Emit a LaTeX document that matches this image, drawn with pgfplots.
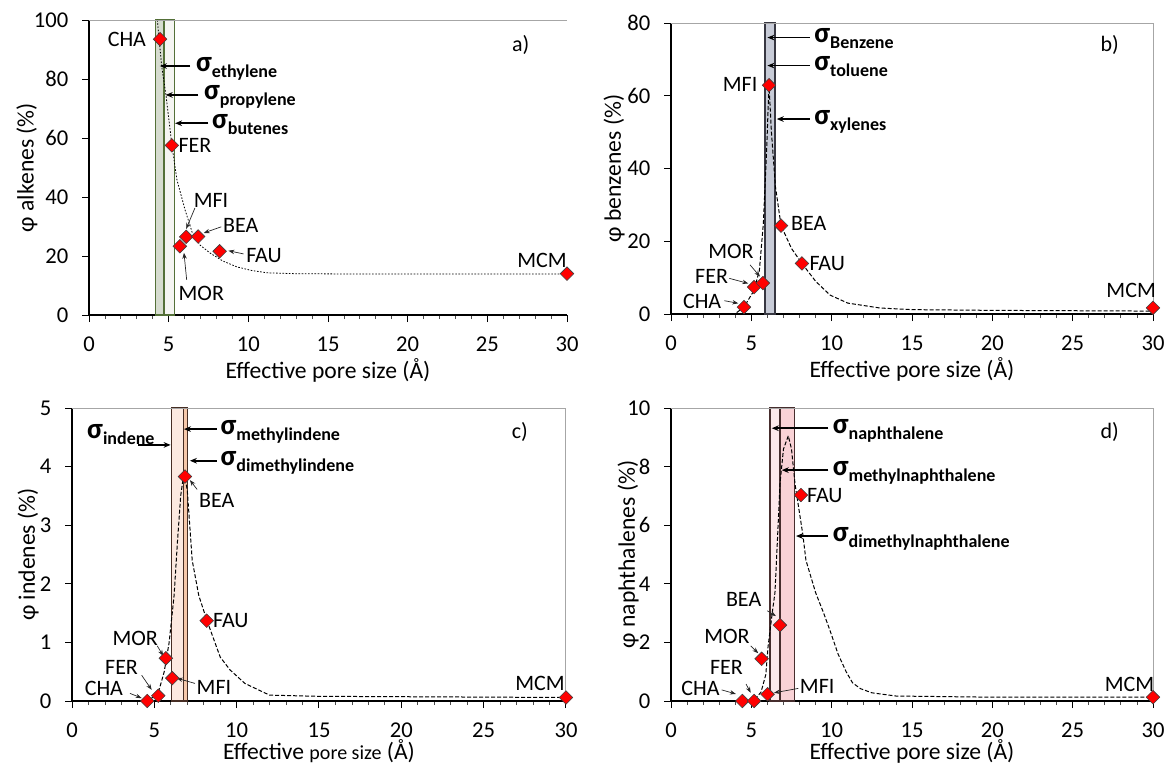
\documentclass[border=0pt]{standalone}
\usepackage{fontspec}
\setmainfont{Carlito}
\usepackage{pgfplots}
\pgfplotsset{compat=1.18}
\usetikzlibrary{arrows.meta}

\definecolor{aband}{RGB}{214,220,207}
\definecolor{abandb}{RGB}{245,245,242}
\definecolor{aline}{RGB}{84,112,56}
\definecolor{bband}{RGB}{199,203,215}
\definecolor{bline}{RGB}{55,55,65}
\definecolor{cband}{RGB}{252,233,224}
\definecolor{cbandb}{RGB}{246,200,170}
\definecolor{cline}{RGB}{70,45,35}
\definecolor{dband}{RGB}{253,233,235}
\definecolor{dbandb}{RGB}{249,210,214}
\definecolor{dline}{RGB}{70,45,45}
\definecolor{mred}{RGB}{255,0,0}

\newcommand{\sig}[1]{{\bfseries\fontsize{14.5}{16}\selectfont σ\raisebox{-3pt}{\fontsize{9}{10}\selectfont #1}}}

\tikzset{
lbl/.style={font=\fontsize{11}{13}\selectfont, inner sep=0pt},
sg/.style={anchor=base west, yshift=-2.5pt, inner sep=0pt},
parr/.style={-{Stealth[length=3pt,width=2.2pt]}, line width=0.35pt, black!85},
sarr/.style={-{Stealth[length=3.5pt,width=2.8pt]}, line width=0.9pt, black},
}
\pgfplotsset{panel/.style={
  scale only axis, anchor=south west, clip=false,
  xmin=0, xmax=30, xtick={0,5,...,30}, minor x tick num=4,
  axis x line*=bottom, axis y line*=left,
  axis line style={-, line width=0.6pt, black},
  tick align=outside, major tick length=3.5pt, minor tick length=2pt,
  major tick style={black, line width=0.5pt},
  minor tick style={black!70, line width=0.4pt},
  tick label style={font=\fontsize{11.3}{13}\selectfont},
  xticklabel style={yshift=-3.8pt},
  yticklabel style={xshift=-3.3pt},
  /pgf/number format/assume math mode=true,
  label style={font=\fontsize{11.8}{14}\selectfont},
  xlabel={Effective pore size (Å)},
  xlabel style={at={(axis description cs:0.5,0)}, anchor=center, yshift=-27.5pt},
  ylabel style={anchor=center, rotate=0},
},
pts/.style={only marks, mark=square*, mark size=2.4pt, mark options={rotate=45, fill=mred, draw=black!75, line width=0.3pt}},
fit/.style={black, line width=0.5pt, dash pattern=on 2pt off 1pt},
}

\begin{document}
\begin{tikzpicture}
\useasboundingbox (0,0) rectangle (583.5pt,-382.5pt);

% ---------------- panel a ----------------
\begin{axis}[panel, at={(44.5pt,-157.5pt)}, width=239pt, height=147.5pt,
  ymin=0, ymax=100, ytick={0,20,...,100},
  ylabel={φ alkenes (\%)}, ylabel style={at={(axis description cs:-0.13,0.5)}}]
\addplot[fill=aband, draw=aline, line width=0.7pt] coordinates {(4.16,0) (4.16,100) (4.70,100) (4.70,0)} -- cycle;
\addplot[fill=abandb, draw=aline, line width=0.7pt] coordinates {(4.70,0) (4.70,100) (5.35,100) (5.35,0)} -- cycle;
\addplot[black, line width=0.4pt, dash pattern=on 0.8pt off 0.8pt] coordinates {
(4.29,100) (4.56,84.4) (4.83,74.6) (5.21,57.3) (5.52,45.8) (6.03,35.6) (6.47,28.1)
(6.97,23.7) (7.6,21.0) (8.4,18.3) (9.29,16.3) (10.2,15.1) (11.17,14.3) (13,14.0) (16.4,13.9) (30,13.9)};
\addplot[pts] coordinates {(4.46,93.5) (5.2,57.5) (5.7,23.3) (6.1,26.5) (6.85,26.6) (8.2,21.6) (30,14)};
\draw[gray!70, line width=0.5pt] (rel axis cs:0,1) -- (rel axis cs:1,1);
\node[lbl, anchor=east] at (axis cs:3.6,93.5) {CHA};
\node[lbl, anchor=west] at (axis cs:5.6,57.5) {FER};
\node[lbl, anchor=west] at (axis cs:6.55,39) {MFI};
\draw[parr] (axis cs:6.65,36.3) -- (axis cs:6.1,29.2);
\node[lbl, anchor=west] at (axis cs:8.4,30.3) {BEA};
\draw[parr] (axis cs:8.3,29.9) -- (axis cs:7.2,27.8);
\node[lbl, anchor=west] at (axis cs:9.85,20) {FAU};
\draw[parr] (axis cs:9.7,20.7) -- (axis cs:8.75,21.8);
\node[lbl, anchor=west] at (axis cs:5.6,7.4) {MOR};
\draw[parr] (axis cs:6.13,11.9) -- (axis cs:5.96,21.1);
\node[lbl, anchor=east] at (axis cs:30.0,18.6) {MCM};
\draw[sarr] (axis cs:6.34,84.4) -- (axis cs:4.45,84.4);
\node[sg] at (axis cs:6.7,84.4) {\sig{ethylene}};
\draw[sarr] (axis cs:6.86,74.6) -- (axis cs:4.81,74.6);
\node[sg] at (axis cs:7.2,74.6) {\sig{propylene}};
\draw[sarr] (axis cs:7.49,65.0) -- (axis cs:5.4,65.0);
\node[sg] at (axis cs:7.7,65.0) {\sig{butenes}};
\node[lbl] at (axis cs:27.1,91.5) {a)};
\end{axis}

% ---------------- panel b ----------------
\begin{axis}[panel, at={(335.5pt,-157pt)}, width=241pt, height=145.5pt,
  ymin=0, ymax=80, ytick={0,20,...,80},
  ylabel={φ benzenes (\%)}, ylabel style={at={(axis description cs:-0.118,0.5)}}]
\addplot[fill=bband, draw=bline, line width=0.7pt] coordinates {(5.85,0) (5.85,80) (6.47,80) (6.47,0)} -- cycle;
\addplot[fit] coordinates {
(0,0) (4.0,0.1) (4.54,1.9) (5.17,6.5) (5.5,12) (5.75,25) (5.95,45) (6.1,63)
(6.25,50) (6.5,35) (6.85,24.3) (7.5,18) (8.15,13.9) (9,9) (9.9,5.2) (11,3) (13,1.65) (15,1.2) (20,1.0) (30,0.8)};
\addplot[pts] coordinates {(4.54,1.9) (5.17,7.4) (5.72,8.5) (6.1,62.9) (6.85,24.3) (8.15,13.9) (30,1.7)};
\draw[gray!70, line width=0.5pt] (rel axis cs:0,1) -- (rel axis cs:1,1) -- (rel axis cs:1,0);
\node[lbl, anchor=east] at (axis cs:5.4,63) {MFI};
\node[lbl, anchor=west] at (axis cs:7.45,25) {BEA};
\node[lbl, anchor=west] at (axis cs:8.6,14) {FAU};
\node[lbl, anchor=east] at (axis cs:5.17,17.1) {MOR};
\draw[parr] (axis cs:4.92,13.5) -- (axis cs:5.54,10.3);
\node[lbl, anchor=east] at (axis cs:3.57,10.4) {FER};
\draw[parr] (axis cs:3.63,9.8) -- (axis cs:4.81,8.4);
\node[lbl, anchor=east] at (axis cs:3.15,3.4) {CHA};
\draw[parr] (axis cs:3.32,3.66) -- (axis cs:4.19,2.93);
\node[lbl, anchor=east] at (axis cs:30.2,6.6) {MCM};
\draw[sarr] (axis cs:8.65,76) -- (axis cs:6.0,76);
\node[sg] at (axis cs:8.9,76) {\sig{Benzene}};
\draw[sarr] (axis cs:8.65,68.3) -- (axis cs:6.0,68.3);
\node[sg] at (axis cs:8.9,68.3) {\sig{toluene}};
\draw[sarr] (axis cs:8.65,53.6) -- (axis cs:6.58,53.6);
\node[sg] at (axis cs:8.9,53.6) {\sig{xylenes}};
\node[lbl] at (axis cs:27.3,74) {b)};
\end{axis}

% ---------------- panel c ----------------
\begin{axis}[panel, at={(36pt,-350.5pt)}, width=247pt, height=146.5pt,
  ymin=0, ymax=5, ytick={0,1,...,5},
  xlabel={Effective {\fontsize{10}{12}\selectfont pore size} (Å)},
  xlabel style={yshift=2.5pt},
  ylabel={φ indenes (\%)}, ylabel style={at={(axis description cs:-0.089,0.5)}}]
\addplot[fill=cband, draw=cline, line width=0.7pt] coordinates {(6.05,0) (6.05,5) (6.76,5) (6.76,0)} -- cycle;
\addplot[fill=cbandb, draw=cline, line width=0.7pt] coordinates {(6.76,0) (6.76,5) (7.02,5) (7.02,0)} -- cycle;
\addplot[fit] coordinates {
(0,0) (4.3,0) (4.6,0.02) (5.2,0.1) (5.6,0.5) (5.9,1.0) (6.2,1.8) (6.4,2.7) (6.6,3.5) (6.8,3.9)
(7.0,3.6) (7.15,3.0) (7.3,2.4) (7.7,1.8) (8.2,1.37) (9,0.75) (9.6,0.53) (10.5,0.3) (12,0.1) (15,0.08) (30,0.06)};
\addplot[pts] coordinates {(4.57,0) (5.24,0.09) (5.7,0.73) (6.09,0.39) (6.86,3.83) (8.18,1.37) (30,0.06)};
\draw[gray!70, line width=0.5pt] (rel axis cs:0,1) -- (rel axis cs:1,1) -- (rel axis cs:1,0);
\node[lbl, anchor=west] at (axis cs:7.7,3.43) {BEA};
\draw[parr] (axis cs:7.6,3.61) -- (axis cs:7.16,3.77);
\node[lbl, anchor=west] at (axis cs:8.55,1.37) {FAU};
\node[lbl, anchor=east] at (axis cs:5.24,1.07) {MOR};
\draw[parr] (axis cs:5.18,0.94) -- (axis cs:5.54,0.77);
\node[lbl, anchor=east] at (axis cs:4.03,0.57) {FER};
\draw[parr] (axis cs:4.23,0.44) -- (axis cs:4.84,0.19);
\node[lbl, anchor=east] at (axis cs:3.12,0.22) {CHA};
\draw[parr] (axis cs:3.52,0.13) -- (axis cs:4.23,0.05);
\node[lbl, anchor=west] at (axis cs:7.55,0.23) {MFI};
\draw[parr] (axis cs:7.47,0.3) -- (axis cs:6.36,0.39);
\node[lbl, anchor=east] at (axis cs:29.95,0.3) {MCM};
\node[sg] at (axis cs:0.9,4.57) {\sig{indene}};
\draw[sarr] (axis cs:4.03,4.37) -- (axis cs:5.99,4.37);
\draw[sarr] (axis cs:8.78,4.64) -- (axis cs:6.8,4.64);
\node[sg] at (axis cs:9.0,4.64) {\sig{methylindene}};
\draw[sarr] (axis cs:8.78,4.1) -- (axis cs:7.16,4.1);
\node[sg] at (axis cs:9.0,4.1) {\sig{dimethylindene}};
\node[lbl] at (axis cs:27.2,4.59) {c)};
\end{axis}

% ---------------- panel d ----------------
\begin{axis}[panel, at={(335.5pt,-350.5pt)}, width=241pt, height=146.5pt,
  ymin=0, ymax=10, ytick={0,2,...,10},
  xlabel style={yshift=2.5pt},
  ylabel={φ naphthalenes (\%)}, ylabel style={at={(axis description cs:-0.089,0.5)}}]
\addplot[fill=dband, draw=dline, line width=0.7pt] coordinates {(6.16,0) (6.16,10) (6.78,10) (6.78,0)} -- cycle;
\addplot[fill=dbandb, draw=dline, line width=0.7pt] coordinates {(6.78,0) (6.78,10) (7.67,10) (7.67,0)} -- cycle;
\addplot[fit] coordinates {
(0,0) (4.4,0) (5.2,0.05) (5.6,0.3) (5.9,0.9) (6.04,1.85) (6.3,3.0) (6.47,3.7) (6.6,5.2) (6.78,7.4)
(7.0,8.6) (7.3,9.05) (7.5,8.6) (7.72,7.4) (8.2,5.7) (8.4,4.8) (9.0,3.7) (9.5,3.0) (9.9,2.4) (10.4,1.6) (10.9,1.0) (11.3,0.62)
(11.8,0.42) (12.5,0.28) (14,0.17) (20,0.13) (30,0.13)};
\addplot[pts] coordinates {(4.44,0) (5.17,0) (5.64,1.44) (6.01,0.23) (6.78,2.59) (8.09,7.03) (30,0.13)};
\draw[gray!70, line width=0.5pt] (rel axis cs:0,1) -- (rel axis cs:1,1) -- (rel axis cs:1,0);
\node[lbl, anchor=west] at (axis cs:8.45,7.0) {FAU};
\node[lbl, anchor=east] at (axis cs:5.64,3.45) {BEA};
\draw[parr] (axis cs:5.99,3.08) -- (axis cs:6.53,2.9);
\node[lbl, anchor=east] at (axis cs:4.92,2.22) {MOR};
\draw[parr] (axis cs:4.96,1.88) -- (axis cs:5.43,1.63);
\node[lbl, anchor=east] at (axis cs:4.5,1.15) {FER};
\draw[parr] (axis cs:4.67,0.58) -- (axis cs:4.96,0.28);
\node[lbl, anchor=east] at (axis cs:3.05,0.43) {CHA};
\draw[parr] (axis cs:3.15,0.38) -- (axis cs:4.04,0.24);
\node[lbl, anchor=west] at (axis cs:8.0,0.49) {MFI};
\draw[parr] (axis cs:7.92,0.43) -- (axis cs:6.41,0.28);
\node[lbl, anchor=east] at (axis cs:30.1,0.58) {MCM};
\draw[sarr] (axis cs:9.79,9.31) -- (axis cs:6.27,9.31);
\node[sg] at (axis cs:10.05,9.31) {\sig{naphthalene}};
\draw[sarr] (axis cs:9.79,7.88) -- (axis cs:6.89,7.88);
\node[sg] at (axis cs:10.05,7.88) {\sig{methylnaphthalene}};
\draw[sarr] (axis cs:9.79,5.63) -- (axis cs:7.78,5.63);
\node[sg] at (axis cs:10.05,5.63) {\sig{dimethylnaphthalene}};
\node[lbl] at (axis cs:27.3,9.18) {d)};
\end{axis}
\end{tikzpicture}
\end{document}
